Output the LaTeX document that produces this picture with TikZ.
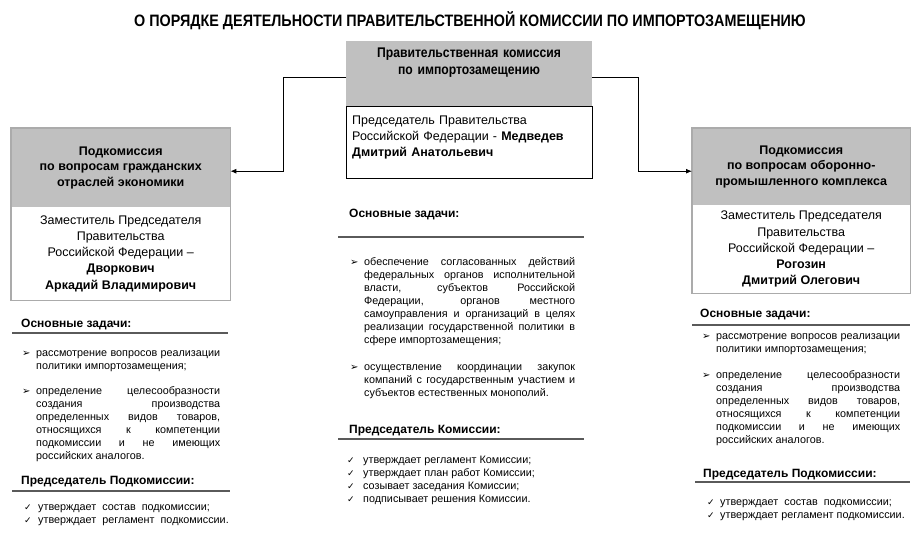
\documentclass[tikz,border=0pt]{standalone}
\usepackage{fontspec}
\setmainfont{Liberation Sans}
\newfontfamily\narrowfont[FakeStretch=0.87]{Liberation Sans}
\newfontfamily\symbfont{DejaVu Sans}
\usetikzlibrary{arrows.meta, positioning, calc}

\definecolor{boxgray}{HTML}{C0C0C0}
\definecolor{framegray}{HTML}{ABABAB}
\definecolor{rulegray}{HTML}{5A5A5A}

\newcommand{\bullarrow}{{\symbfont\fontsize{10}{10}\selectfont ➢}}
\newcommand{\tickmark}{{\symbfont\fontsize{9}{9}\selectfont ✓}}

\tikzset{
  graybox/.style={fill=boxgray, inner sep=0pt, anchor=north west},
  whitebox/.style={fill=white, inner sep=0pt, anchor=north west},
  headtext/.style={font=\fontsize{12.5}{15.5}\selectfont\bfseries, align=center},
  boxtext/.style={font=\fontsize{12.5}{16.2}\selectfont, align=center},
  heading/.style={font=\fontsize{12}{14}\selectfont\bfseries, anchor=base west, inner sep=0pt},
  item/.style={font=\fontsize{10.8}{13}\selectfont, text width=184pt, align=justify, anchor=base west, inner sep=0pt},
  plain/.style={font=\fontsize{10.8}{13}\selectfont, anchor=base west, inner sep=0pt},
  bulletnode/.style={anchor=base west, inner sep=0pt},
  sideframe/.style={draw=framegray, line width=1.6pt},
  hrule/.style={draw=rulegray, line width=1.4pt},
  conn/.style={-{Latex[length=6pt,width=5pt]}, line width=0.9pt},
}

\begin{document}
\begin{tikzpicture}[x=1pt, y=-1pt]
\useasboundingbox (0,0) rectangle (922,536);

\node (title) [anchor=base, inner sep=0pt, font=\narrowfont\fontsize{16.5}{18}\selectfont\bfseries] at (470,26)
  {О ПОРЯДКЕ ДЕЯТЕЛЬНОСТИ ПРАВИТЕЛЬСТВЕННОЙ КОМИССИИ ПО ИМПОРТОЗАМЕЩЕНИЮ};

% Commission
\node (cg) [graybox, minimum width=246pt, minimum height=65pt] at (346,41) {};
\node (cgtext) [anchor=base, inner sep=0pt, text width=246pt, align=center, font=\narrowfont\fontsize{14}{17}\selectfont\bfseries] at (469,57)
  {Правительственная комиссия\\по импортозамещению};
\node (cw) [whitebox, draw=black, line width=0.8pt, minimum width=246pt, minimum height=72pt] at (346,106) {};
\node (cwtext) [anchor=base west, inner sep=0pt, text width=236pt, align=left, font=\fontsize{12.5}{16}\selectfont] at (352,124.5)
  {Председатель Правительства\\Российской Федерации - \textbf{Медведев}\\\textbf{Дмитрий Анатольевич}};

% Left subcommission
\node (lg) [graybox, headtext, minimum width=219pt, minimum height=79pt] at (11,128)
  {Подкомиссия\\по вопросам гражданских\\отраслей экономики};
\node (lw) [whitebox, boxtext, minimum width=219pt, minimum height=93pt] at (11,207)
  {Заместитель Председателя\\Правительства\\Российской Федерации –\\\textbf{Дворкович}\\\textbf{Аркадий Владимирович}};
\draw[sideframe] (lg.north west) rectangle (lw.south east);

% Right subcommission
\node (rg) [graybox, headtext, minimum width=218pt, minimum height=77pt] at (692,128)
  {Подкомиссия\\по вопросам оборонно-\\промышленного комплекса};
\node (rw) [whitebox, boxtext, minimum width=218pt, minimum height=88pt] at (692,205)
  {Заместитель Председателя\\Правительства\\Российской Федерации –\\\textbf{Рогозин}\\\textbf{Дмитрий Олегович}};
\draw[sideframe] (rg.north west) rectangle (rw.south east);

% Links
\draw[conn] ([yshift=-36pt]cg.north west) -- ++(-63,0) |- ([yshift=-3.5pt]lg.east);
\draw[conn] ([yshift=-36pt]cg.north east) -- ++(46,0) |- ([yshift=-4.5pt]rg.west);

% Left tasks
\node (ltask) [heading] at (21,327) {Основные задачи:};
\draw[hrule] (12,333) -- (228,333);
\node (lb1) [bulletnode] at (22,356) {\bullarrow};
\node (li1) [item] at (36,356) {рассмотрение вопросов реализации\linebreak политики импортозамещения;};
\node (lb2) [bulletnode] at (22,394) {\bullarrow};
\node (li2) [item] at (36,394) {определение целесообразности\linebreak создания производства\linebreak определенных видов товаров,\linebreak относящихся к компетенции\linebreak подкомиссии и не имеющих\linebreak российских аналогов.};
\node (lchair) [heading] at (21,484) {Председатель Подкомиссии:};
\draw[hrule] (12,491) -- (230,491);
\foreach \y/\txt [count=\i] in {510/утверждает\ \ состав\ \ подкомиссии;, 523/утверждает\ \ регламент\ \ подкомиссии.} {
  \node (lc\i) [bulletnode] at (24,\y) {\tickmark};
  \node (lct\i) [plain] at (38,\y) {\txt};
}

% Centre tasks
\node (ctask) [heading] at (349,217) {Основные задачи:};
\draw[hrule] (338,237) -- (584,237);
\node (cb1) [bulletnode] at (350,265.5) {\bullarrow};
\node (ci1) [item, text width=211pt] at (364,265.5) {обеспечение согласованных действий\linebreak федеральных органов исполнительной\linebreak власти, субъектов Российской\linebreak Федерации, органов местного\linebreak самоуправления и организаций в целях\linebreak реализации государственной политики в\linebreak сфере импортозамещения;};
\node (cb2) [bulletnode] at (350,370.5) {\bullarrow};
\node (ci2) [item, text width=211pt] at (364,370.5) {осуществление координации закупок\linebreak компаний с государственным участием и\linebreak субъектов естественных монополий.};
\node (cchair) [heading] at (349,433) {Председатель Комиссии:};
\draw[hrule] (338,439) -- (584,439);
\foreach \y/\txt [count=\i] in {463.5/утверждает регламент Комиссии;, 476.5/утверждает план работ Комиссии;, 489.5/созывает заседания Комиссии;, 502.5/подписывает решения Комиссии.} {
  \node (cc\i) [bulletnode] at (347,\y) {\tickmark};
  \node (cct\i) [plain] at (363,\y) {\txt};
}

% Right tasks
\node (rtask) [heading] at (700,317) {Основные задачи:};
\draw[hrule] (692,325) -- (910,325);
\node (rb1) [bulletnode] at (702,339.5) {\bullarrow};
\node (ri1) [item] at (716,339.5) {рассмотрение вопросов реализации\linebreak политики импортозамещения;};
\node (rb2) [bulletnode] at (702,378.5) {\bullarrow};
\node (ri2) [item] at (716,378.5) {определение целесообразности\linebreak создания производства\linebreak определенных видов товаров,\linebreak относящихся к компетенции\linebreak подкомиссии и не имеющих\linebreak российских аналогов.};
\node (rchair) [heading] at (703,477) {Председатель Подкомиссии:};
\draw[hrule] (695,482) -- (910,482);
\foreach \y/\txt [count=\i] in {505.5/утверждает\ \ состав\ \ подкомиссии;, 518.5/утверждает регламент подкомиссии.} {
  \node (rc\i) [bulletnode] at (707,\y) {\tickmark};
  \node (rct\i) [plain] at (720,\y) {\txt};
}
\end{tikzpicture}
\end{document}
